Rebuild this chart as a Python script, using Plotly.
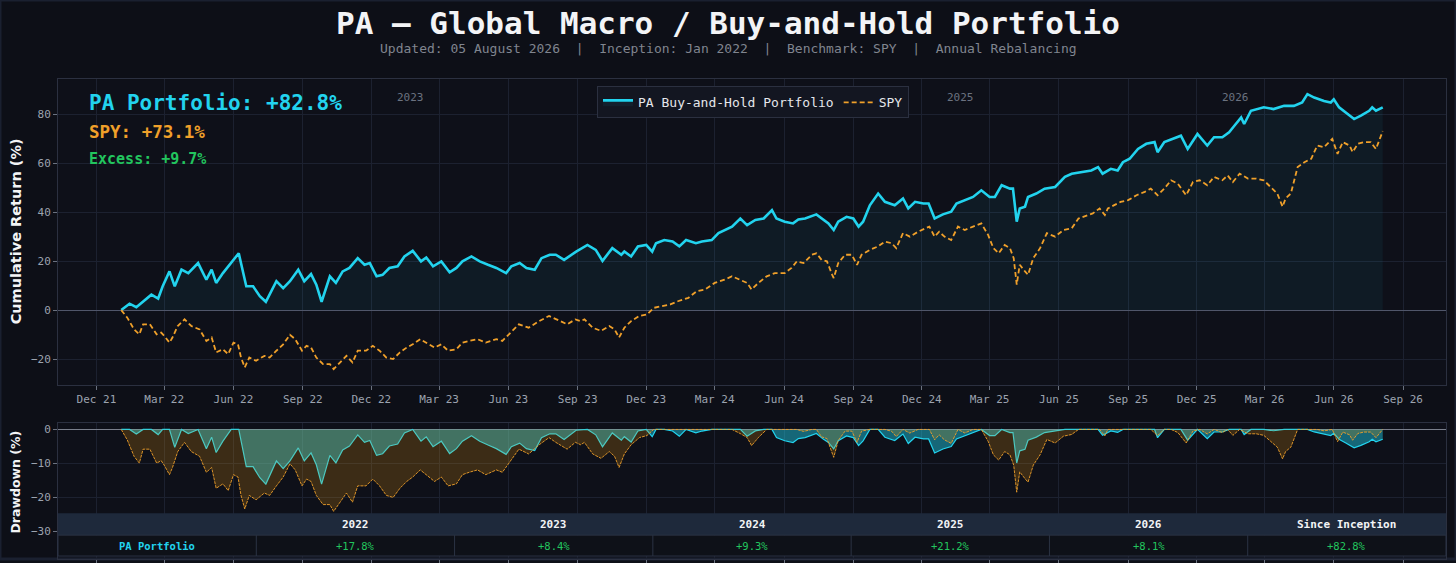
import pandas as pd
import plotly.graph_objects as go

W, H = 1456, 563
BG, PLOT_BG = "#0d0f17", "#0e1019"
CYAN, ORANGE, GREEN = "#22d3ee", "#f0a02a", "#22c55e"
GRID, SPINE = "#1c2130", "#2b3040"
MONO = "DejaVu Sans Mono"

# cumulative return (%)
pa_dates = [
    "2022-01-03", "2022-01-14", "2022-01-23", "2022-02-01", "2022-02-12", "2022-02-21", "2022-02-27",
    "2022-03-08", "2022-03-15", "2022-03-24", "2022-04-02", "2022-04-15", "2022-04-26", "2022-05-03",
    "2022-05-09", "2022-05-18", "2022-05-29", "2022-06-08", "2022-06-18", "2022-06-27", "2022-07-06",
    "2022-07-14", "2022-07-28", "2022-08-06", "2022-08-15", "2022-08-26", "2022-09-03", "2022-09-12",
    "2022-09-19", "2022-09-26", "2022-10-07", "2022-10-15", "2022-10-24", "2022-11-02", "2022-11-13",
    "2022-11-22", "2022-11-29", "2022-12-08", "2022-12-16", "2022-12-25", "2023-01-05", "2023-01-14",
    "2023-01-25", "2023-02-05", "2023-02-12", "2023-02-21", "2023-03-04", "2023-03-15", "2023-03-24",
    "2023-04-01", "2023-04-13", "2023-04-24", "2023-05-05", "2023-05-16", "2023-05-29", "2023-06-05",
    "2023-06-16", "2023-06-25", "2023-07-06", "2023-07-15", "2023-07-26", "2023-08-03", "2023-08-14",
    "2023-08-30", "2023-09-14", "2023-09-25", "2023-10-04", "2023-10-17", "2023-10-29", "2023-11-02",
    "2023-11-11", "2023-11-20", "2023-12-01", "2023-12-09", "2023-12-14", "2023-12-25", "2024-01-05",
    "2024-01-14", "2024-01-23", "2024-02-05", "2024-02-13", "2024-02-26", "2024-03-06", "2024-03-24",
    "2024-04-04", "2024-04-13", "2024-04-24", "2024-05-05", "2024-05-16", "2024-05-22", "2024-06-02",
    "2024-06-13", "2024-06-20", "2024-06-29", "2024-07-14", "2024-07-23", "2024-07-30", "2024-08-06",
    "2024-08-12", "2024-08-23", "2024-09-01", "2024-09-08", "2024-09-14", "2024-09-23", "2024-10-04",
    "2024-10-13", "2024-10-26", "2024-11-06", "2024-11-13", "2024-11-22", "2024-12-03", "2024-12-10",
    "2024-12-18", "2024-12-29", "2025-01-09", "2025-01-16", "2025-01-27", "2025-02-07", "2025-02-18",
    "2025-03-01", "2025-03-08", "2025-03-17", "2025-03-28", "2025-04-01", "2025-04-06", "2025-04-10",
    "2025-04-17", "2025-04-21", "2025-05-02", "2025-05-13", "2025-05-27", "2025-06-09", "2025-06-18",
    "2025-07-01", "2025-07-14", "2025-07-23", "2025-07-29", "2025-08-09", "2025-08-18", "2025-08-25",
    "2025-09-03", "2025-09-14", "2025-09-25", "2025-10-06", "2025-10-10", "2025-10-19", "2025-10-30",
    "2025-11-10", "2025-11-19", "2025-12-02", "2025-12-15", "2025-12-24", "2026-01-04", "2026-01-13",
    "2026-01-20", "2026-01-29", "2026-02-02", "2026-02-11", "2026-02-28", "2026-03-13", "2026-03-27",
    "2026-04-09", "2026-04-20", "2026-04-27", "2026-05-06", "2026-05-19", "2026-05-28", "2026-06-01",
    "2026-06-08", "2026-06-17", "2026-06-28", "2026-07-07", "2026-07-18", "2026-07-22", "2026-07-27",
    "2026-08-05",
]
pa_values = [
    0, 2.6, 1.2, 3.6, 6.3, 4.7, 9.7,
    15.8, 9.7, 16.5, 15.1, 19.2, 12.4, 16.5,
    11.1, 15.1, 19.2, 23.2, 9.7, 9.7, 5.7,
    3.4, 11.8, 9.0, 11.8, 16.5, 11.8, 14.7,
    10.4, 3.4, 13.8, 11.1, 15.8, 17.2, 21.2,
    18.5, 19.2, 13.8, 14.4, 17.2, 17.9, 21.9,
    24.2, 19.9, 21.5, 17.9, 19.9, 15.4, 17.2,
    19.9, 21.9, 19.9, 18.5, 17.2, 15.1, 17.9,
    19.2, 17.2, 16.5, 21.2, 22.6, 22.6, 20.5,
    23.9, 26.6, 24.6, 20.1, 25.3, 22.6, 23.9,
    21.9, 26.0, 26.6, 23.9, 27.3, 28.6, 28.0,
    26.0, 28.6, 27.3, 28.0, 28.6, 31.4, 34.1,
    37.4, 34.7, 36.8, 37.4, 40.8, 37.4, 36.1,
    35.4, 37.0, 37.4, 39.1, 36.8, 35.4, 32.7,
    36.1, 38.1, 37.4, 34.1, 36.1, 42.8, 47.6,
    44.2, 42.8, 45.6, 41.5, 44.2, 43.5, 43.5,
    37.4, 39.1, 40.2, 43.5, 44.9, 46.2, 48.9,
    46.2, 46.2, 51.0, 49.6, 49.6, 36.1, 41.5,
    42.2, 46.2, 47.6, 49.6, 50.3, 54.4, 55.7,
    56.4, 57.0, 58.4, 55.7, 57.7, 57.0, 60.4,
    61.8, 65.8, 67.9, 68.6, 64.5, 68.6, 69.9,
    71.2, 65.8, 71.9, 67.2, 70.6, 70.6, 72.6,
    75.3, 78.7, 76.0, 81.4, 82.8, 82.1, 83.4,
    83.4, 84.8, 88.2, 86.8, 85.4, 84.8, 86.1,
    82.8, 80.7, 78.0, 79.4, 81.4, 82.8, 81.4,
    82.8,
]

spy_dates = [
    "2022-01-03", "2022-01-11", "2022-01-20", "2022-01-27", "2022-02-01", "2022-02-10", "2022-02-19",
    "2022-02-25", "2022-03-01", "2022-03-08", "2022-03-12", "2022-03-19", "2022-03-28", "2022-04-06",
    "2022-04-17", "2022-04-26", "2022-05-03", "2022-05-09", "2022-05-18", "2022-05-25", "2022-06-01",
    "2022-06-07", "2022-06-11", "2022-06-16", "2022-06-22", "2022-07-01", "2022-07-12", "2022-07-19",
    "2022-07-28", "2022-08-06", "2022-08-15", "2022-08-22", "2022-08-31", "2022-09-06", "2022-09-12",
    "2022-09-19", "2022-09-28", "2022-10-07", "2022-10-12", "2022-10-20", "2022-10-29", "2022-11-06",
    "2022-11-13", "2022-11-24", "2022-12-03", "2022-12-12", "2022-12-21", "2022-12-30", "2023-01-08",
    "2023-01-17", "2023-01-25", "2023-02-04", "2023-02-12", "2023-02-23", "2023-03-04", "2023-03-13",
    "2023-03-24", "2023-04-01", "2023-04-10", "2023-04-21", "2023-05-02", "2023-05-16", "2023-05-24",
    "2023-06-02", "2023-06-15", "2023-06-28", "2023-07-12", "2023-07-25", "2023-08-03", "2023-08-18",
    "2023-08-29", "2023-09-05", "2023-09-10", "2023-09-21", "2023-10-02", "2023-10-13", "2023-10-20",
    "2023-10-26", "2023-11-02", "2023-11-11", "2023-11-22", "2023-12-02", "2023-12-11", "2023-12-22",
    "2024-01-02", "2024-01-13", "2024-01-26", "2024-02-06", "2024-02-17", "2024-03-01", "2024-03-14",
    "2024-03-24", "2024-04-04", "2024-04-13", "2024-04-19", "2024-04-28", "2024-05-09", "2024-05-20",
    "2024-06-02", "2024-06-11", "2024-06-18", "2024-06-27", "2024-07-08", "2024-07-14", "2024-07-21",
    "2024-07-28", "2024-08-04", "2024-08-06", "2024-08-12", "2024-08-21", "2024-08-30", "2024-09-06",
    "2024-09-12", "2024-09-23", "2024-10-04", "2024-10-13", "2024-10-22", "2024-10-28", "2024-11-06",
    "2024-11-15", "2024-11-26", "2024-12-05", "2024-12-11", "2024-12-18", "2024-12-24", "2024-12-31",
    "2025-01-09", "2025-01-18", "2025-01-27", "2025-02-07", "2025-02-18", "2025-02-27", "2025-03-06",
    "2025-03-13", "2025-03-21", "2025-03-28", "2025-04-02", "2025-04-06", "2025-04-10", "2025-04-17",
    "2025-04-21", "2025-04-28", "2025-05-07", "2025-05-16", "2025-05-27", "2025-06-07", "2025-06-18",
    "2025-06-27", "2025-07-08", "2025-07-16", "2025-07-25", "2025-08-01", "2025-08-05", "2025-08-14",
    "2025-08-22", "2025-09-01", "2025-09-12", "2025-09-23", "2025-10-01", "2025-10-10", "2025-10-19",
    "2025-10-28", "2025-11-06", "2025-11-17", "2025-11-26", "2025-12-05", "2025-12-15", "2025-12-24",
    "2026-01-04", "2026-01-11", "2026-01-18", "2026-01-27", "2026-02-07", "2026-02-18", "2026-02-28",
    "2026-03-09", "2026-03-18", "2026-03-25", "2026-03-29", "2026-04-05", "2026-04-14", "2026-04-23",
    "2026-05-02", "2026-05-10", "2026-05-19", "2026-05-30", "2026-06-06", "2026-06-13", "2026-06-22",
    "2026-06-26", "2026-07-03", "2026-07-11", "2026-07-20", "2026-07-27", "2026-08-05",
]
spy_values = [
    0, -3.1, -7.9, -9.9, -5.8, -5.8, -9.9,
    -9.2, -10.5, -13.3, -11.2, -6.5, -3.8, -6.5,
    -7.9, -12.6, -11.2, -17.3, -16.0, -18.0, -13.3,
    -14.0, -19.4, -23.4, -19.4, -20.7, -18.7, -19.4,
    -16.6, -14.0, -10.1, -11.9, -16.6, -14.6, -15.3,
    -19.4, -22.1, -22.1, -24.1, -21.4, -18.7, -21.4,
    -16.6, -16.6, -14.6, -16.6, -19.4, -20.0, -17.3,
    -15.3, -14.0, -11.9, -13.3, -15.3, -14.0, -16.6,
    -16.0, -13.3, -12.6, -11.9, -13.3, -11.9, -12.6,
    -9.9, -5.8, -7.2, -4.5, -2.4, -3.8, -5.8,
    -3.8, -4.5, -3.8, -7.2, -8.5, -6.5, -7.9,
    -11.2, -7.2, -4.5, -2.4, -1.8, 0.9, 1.6,
    2.3, 3.7, 5.0, 7.7, 8.4, 11.1, 12.4,
    13.8, 12.4, 11.1, 8.4, 11.1, 13.8, 15.1,
    15.1, 17.2, 19.9, 19.2, 22.6, 23.2, 20.5,
    19.9, 14.4, 13.1, 19.2, 22.6, 22.6, 18.5,
    22.6, 24.6, 26.0, 28.0, 27.3, 25.3, 31.4,
    30.0, 32.0, 33.4, 34.1, 30.0, 32.0, 30.0,
    28.6, 34.1, 32.7, 34.1, 35.4, 30.7, 25.3,
    23.2, 26.6, 25.3, 21.2, 10.4, 18.5, 15.8,
    14.4, 21.2, 25.3, 31.4, 30.0, 32.7, 33.4,
    37.4, 38.8, 39.5, 41.5, 38.8, 41.5, 42.8,
    44.2, 44.9, 46.9, 48.3, 49.6, 46.9, 49.6,
    53.0, 51.6, 46.9, 52.3, 53.0, 51.0, 54.4,
    53.0, 55.0, 52.3, 55.7, 53.7, 53.7, 53.0,
    50.3, 47.6, 42.2, 45.6, 47.6, 58.4, 60.4,
    61.8, 67.2, 66.5, 69.9, 63.8, 68.6, 67.2,
    64.5, 67.9, 68.6, 68.6, 65.8, 73.1,
]

year_labels = ["2023", "2025", "2026"]
table_header = ["", "2022", "2023", "2024", "2025", "2026", "Since Inception"]
table_row = ["PA Portfolio", "+17.8%", "+8.4%", "+9.3%", "+21.2%", "+8.1%", "+82.8%"]


def drawdown(values):
    wealth = 1 + pd.Series(values) / 100
    return ((wealth / wealth.cummax() - 1) * 100).round(2).tolist()


pa_dd = drawdown(pa_values)
spy_dd = drawdown(spy_values)

X0, X1 = 58, 1446
XDOM = [X0 / W, X1 / W]


def px_x(px):
    return px / W


def py(px):
    return 1 - px / H


fig = go.Figure()

fig.add_trace(go.Scatter(
    x=pa_dates, y=pa_values, name="PA Buy-and-Hold Portfolio", mode="lines",
    line=dict(color=CYAN, width=2.6), fill="tozeroy", fillcolor="rgba(34,211,238,0.06)",
))
fig.add_trace(go.Scatter(
    x=spy_dates, y=spy_values, name="SPY", mode="lines",
    line=dict(color=ORANGE, width=1.8, dash="5px,3px"),
))

fig.add_trace(go.Scatter(
    x=pa_dates, y=pa_dd, mode="lines", showlegend=False, xaxis="x2", yaxis="y2",
    line=dict(color=CYAN, width=1.2), fill="tozeroy", fillcolor="rgba(34,211,238,0.45)",
))
fig.add_trace(go.Scatter(
    x=spy_dates, y=spy_dd, mode="lines", showlegend=False, xaxis="x2", yaxis="y2",
    line=dict(color=ORANGE, width=0.9, dash="3px,1px"), fill="tozeroy",
    fillcolor="rgba(245,158,11,0.2)",
))

axis_common = dict(
    showgrid=True, gridcolor=GRID, gridwidth=1, showline=True, linecolor=SPINE,
    mirror=True, ticks="outside", ticklen=4, tickcolor="#6b7280",
    tickfont=dict(family=MONO, size=11, color="#9ca3af"),
)
x_common = dict(axis_common, type="date", range=["2021-10-11", "2026-10-28"],
                dtick="M3", tick0="2021-12-01", tickformat="%b %y", domain=XDOM)

annotations = [
    dict(text="<b>PA — Global Macro / Buy-and-Hold Portfolio</b>", x=0.5, y=py(23),
         font=dict(family=MONO, size=31, color="#f3f4f6")),
    dict(text="Updated: 05 August 2026  |  Inception: Jan 2022  |  Benchmark: SPY  |  Annual Rebalancing",
         x=0.5, y=py(49), font=dict(family=MONO, size=13, color="#80858f")),
    dict(text="<b>PA Portfolio: +82.8%</b>", x=px_x(87), y=py(104), xanchor="left",
         font=dict(family=MONO, size=21, color=CYAN)),
    dict(text="<b>SPY: +73.1%</b>", x=px_x(87), y=py(133), xanchor="left",
         font=dict(family=MONO, size=17.5, color=ORANGE)),
    dict(text="<b>Excess: +9.7%</b>", x=px_x(87), y=py(160), xanchor="left",
         font=dict(family=MONO, size=15, color=GREEN)),
    dict(text="<b>Cumulative Return (%)</b>", x=px_x(16), y=py(233), textangle=-90,
         font=dict(family="DejaVu Sans", size=14.5, color="#f3f4f6")),
    dict(text="<b>Drawdown (%)</b>", x=px_x(16), y=py(486), textangle=-90,
         font=dict(family="DejaVu Sans", size=12.5, color="#f3f4f6")),
]
for yr in year_labels:
    annotations.append(dict(text=yr, x=f"{yr}-01-01", xref="x", y=py(98), xanchor="left",
                            font=dict(family=MONO, size=11, color="#6b7280")))

# annual returns table, drawn over the bottom of the drawdown panel
T_TOP, T_MID, T_BOT = 517, 539, 560
col_w = (X1 - X0) / len(table_header)
shapes = [
    dict(type="rect", x0=px_x(X0), x1=px_x(X1), y0=py(T_MID), y1=py(T_TOP),
         fillcolor="#1e293b", line=dict(width=0)),
    dict(type="rect", x0=px_x(X0), x1=px_x(X1), y0=py(T_BOT), y1=py(T_MID),
         fillcolor="#0e1118", line=dict(color="#2b3344", width=1)),
]
for i in range(1, len(table_header)):
    xb = px_x(X0 + i * col_w)
    shapes.append(dict(type="line", x0=xb, x1=xb, y0=py(T_BOT), y1=py(T_MID),
                       line=dict(color="#2b3344", width=1)))
for i, (head, cell) in enumerate(zip(table_header, table_row)):
    xc = px_x(X0 + (i + 0.5) * col_w)
    if head:
        annotations.append(dict(text=f"<b>{head}</b>", x=xc, y=py((T_TOP + T_MID) / 2),
                                font=dict(family=MONO, size=11, color="#f3f4f6")))
    annotations.append(dict(text=f"<b>{cell}</b>" if i == 0 else cell, x=xc,
                            y=py((T_MID + T_BOT) / 2),
                            font=dict(family=MONO, size=10.5, color=CYAN if i == 0 else GREEN)))
shapes.append(dict(type="rect", x0=0, x1=1, y0=0, y1=1, line=dict(color="#1a2030", width=3),
                   layer="below"))

for a in annotations:
    a.setdefault("xref", "paper")
    a.setdefault("yref", "paper")
    a.setdefault("showarrow", False)
    a.setdefault("xanchor", "center")
    a.setdefault("yanchor", "middle")
for s in shapes:
    s.setdefault("xref", "paper")
    s.setdefault("yref", "paper")

fig.update_layout(
    width=W, height=H, margin=dict(l=0, r=0, t=0, b=0),
    paper_bgcolor=BG, plot_bgcolor=PLOT_BG,
    font=dict(family=MONO, color="#e5e7eb"),
    xaxis=dict(x_common, anchor="y"),
    yaxis=dict(axis_common, domain=[py(388), py(80)], range=[-30.7, 94.2], dtick=20,
               zeroline=True, zerolinecolor="#50566a", zerolinewidth=1, anchor="x"),
    xaxis2=dict(x_common, anchor="y2", matches="x", showticklabels=False),
    yaxis2=dict(axis_common, domain=[0, py(426)], range=[-38.1, 1.9],
                tickvals=[0, -10, -20, -30], zeroline=True, zerolinecolor="#7a7f8c",
                zerolinewidth=1, anchor="x2"),
    legend=dict(orientation="h", x=px_x(753), xanchor="center", y=py(87), yanchor="top",
                bgcolor="#131621", bordercolor="#2b3040", borderwidth=1,
                font=dict(family=MONO, size=13, color="#e5e7eb")),
    annotations=annotations,
    shapes=shapes,
    showlegend=True,
)

# the page body has a default 8px margin; drop it and any scrolling so the figure fills the window
fig.write_html("out.html", config={"displayModeBar": False},
               post_script="document.body.style.margin='0';"
                           "document.body.style.overflow='hidden';"
                           "document.documentElement.style.overflow='hidden';")
